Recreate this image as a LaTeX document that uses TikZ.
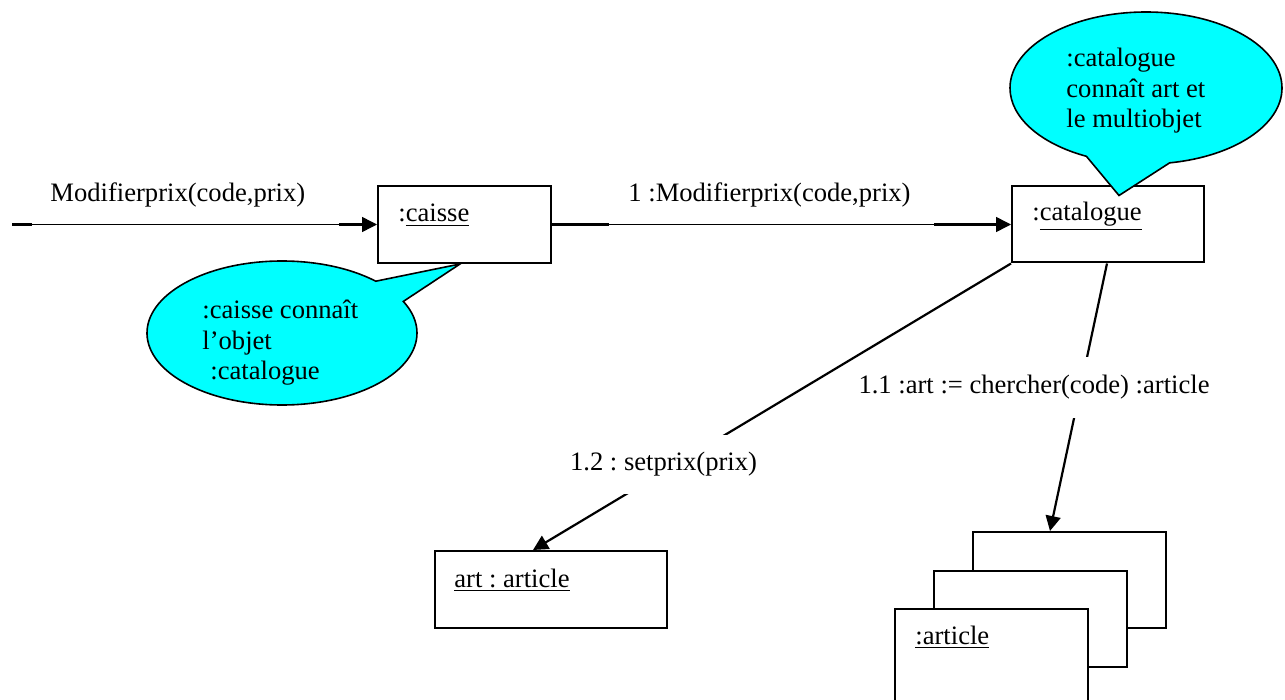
\documentclass[tikz,border=0pt]{standalone}
\usepackage{fontspec}
\setmainfont{Liberation Serif}
\usepackage{tikz}
\usetikzlibrary{arrows.meta}
\usetikzlibrary{shapes.callouts}
\definecolor{bulle}{RGB}{0,255,255}
\newcommand{\collabfont}{\fontsize{13.3pt}{15.25pt}\selectfont}
\tikzset{
  obj_box/.style = {rectangle, draw=black, line width=1pt, fill=white,
    inner sep=0pt},% objet de la collaboration
  obj_txt/.style = {anchor=base west, inner sep=0pt, font=\collabfont},% nom souligne
  msg_lbl/.style = {inner sep=0pt, font=\collabfont},% texte d'un message
  msg_gap/.style = {msg_lbl, fill=white, anchor=base},% message qui coupe le lien
  msg_line/.style = {->, line width=0.75pt},
  msg_diag/.style = {->, line width=1.1pt},
  msg_stub/.style = {line width=1.3pt},
  note_bulle/.style = {ellipse callout, draw=black, line width=0.8pt,
    fill=bulle, inner sep=0pt},% bulle de commentaire
  note_txt/.style = {anchor=west, align=left, inner sep=0pt, font=\collabfont}
}

\begin{document}
\frenchspacing
\begin{tikzpicture}[x=0.5pt,y=-0.5pt,>={Triangle[length=7.5pt,width=7.5pt]}]
\clip (0,0) rectangle (1285,700);
\fill[white] (0,0) rectangle (1285,700);

% objets
\node [obj_box, minimum width=86.5pt, minimum height=38.5pt] (caisse) at (464.5,224.5) {};
\node [obj_box, minimum width=96pt, minimum height=38pt] (catalogue) at (1108,224.5) {};
\node [obj_box, minimum width=116pt, minimum height=38.5pt] (art) at (551,589.5) {};
\foreach \i in {0,1,2}
  \node [obj_box, minimum width=96.5pt, minimum height=48pt] (multi\i) at ({1069.5-39*\i},{580+38.5*\i}) {};

\node [obj_txt] (caisse_t) at ([xshift=10.5pt,yshift=-18.5pt]caisse.north west) {:\underline{caisse}};
\node [obj_txt] (catalogue_t) at ([xshift=10.5pt,yshift=-17.5pt]catalogue.north west) {:\underline{catalogue}};
\node [obj_txt] (art_t) at ([xshift=10pt,yshift=-18.5pt]art.north west) {\underline{art : article}};
\node [obj_txt] (multi_t) at ([xshift=10.5pt,yshift=-18pt]multi2.north west) {\underline{:article}};

% messages
\coordinate (entree) at (12,224.5);
\draw [msg_line] (entree) -- (caisse.west);
\draw [msg_stub] (entree) -- ++(20,0);
\draw [msg_stub] ([xshift=-19pt]caisse.west) -- ([xshift=-7pt]caisse.west);
\draw [msg_line] (caisse.east) -- (catalogue.west);
\draw [msg_stub] (caisse.east) -- ++(57,0);
\draw [msg_stub] ([xshift=-38.5pt]catalogue.west) -- ([xshift=-7pt]catalogue.west);
\draw [msg_diag] (catalogue.south west) -- ([xshift=-9pt]art.north);
\draw [msg_diag] ([xshift=-0.5pt]catalogue.south) -- ([xshift=-9.75pt]multi0.north);

\node [msg_lbl, anchor=base west] (m0) at (50,202) {Modifierprix(code,prix)};
\node [msg_lbl, anchor=base west] (m1) at (628,202) {1 :Modifierprix(code,prix)};
\node [msg_gap, text height=17.5pt, text depth=12pt] (m12) at (663.5,470) {1.2 : setprix(prix)};
\node [msg_gap, text height=18pt, text depth=12.5pt] (m11) at (1034,393) {1.1 :art := chercher(code) :article};

% bulles
\coordinate (tip_cat) at ([xshift=5.5pt,yshift=-5pt]catalogue.north);
\coordinate (tip_caisse) at ([xshift=-2.25pt]caisse.south);
\node [note_bulle, minimum width=136pt, minimum height=76pt,
  callout absolute pointer={(tip_cat)}, callout pointer arc=36] (bulle_cat) at (1146,88) {};
\node [note_txt] (bulle_cat_t) at (1066,91) {:catalogue\\connaît art et\\le multiobjet};
\node [note_bulle, minimum width=135pt, minimum height=72pt,
  callout absolute pointer={(tip_caisse)}, callout pointer arc=20] (bulle_caisse) at (282,333) {};
\node [note_txt] (bulle_caisse_t) at (202,343) {:caisse connaît\\l’objet\\\hspace*{4pt}:catalogue};
\end{tikzpicture}
\end{document}
